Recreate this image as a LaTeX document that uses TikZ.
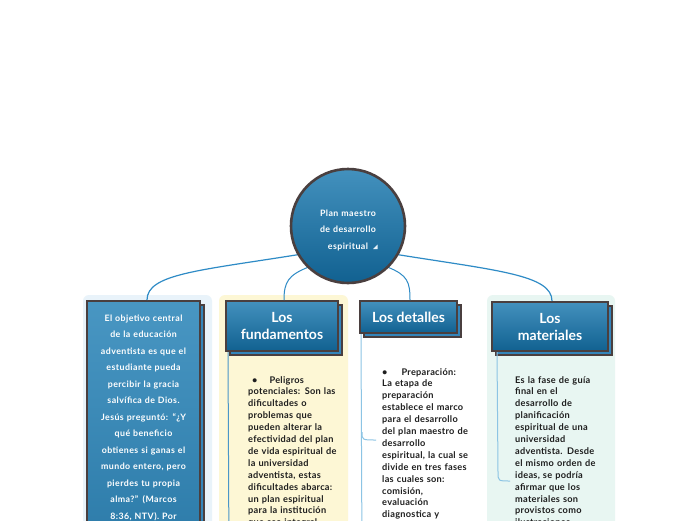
\documentclass[tikz,border=0pt]{standalone}
\usepackage{fontspec}
\setmainfont{Lato}
\newfontfamily\widefont[LetterSpace=5]{Lato}
\newfontfamily\bodyfont[LetterSpace=3]{Lato}
\definecolor{bgblue}{HTML}{E9F3FA}
\definecolor{bgyellow}{HTML}{FDF7D5}
\definecolor{bgmint}{HTML}{E8F6F2}
\definecolor{border}{HTML}{4A3F3F}
\definecolor{shT}{HTML}{5CA9D4}
\definecolor{shM}{HTML}{0E5E8E}
\definecolor{shB}{HTML}{3A86B8}
\definecolor{shadowblue}{HTML}{3485BA}
\definecolor{conncol}{HTML}{2E8BC6}
\definecolor{innercol}{HTML}{8CC4E4}
\definecolor{funcol}{HTML}{4A96C8}
\definecolor{bodycol}{HTML}{1E1E1E}
\pgfdeclareverticalshading{boxshade}{100bp}{color(0bp)=(shB); color(9bp)=(shM); color(22bp)=(shM); color(100bp)=(shT)}
\pgfdeclareverticalshading{leftshade}{100bp}{color(0bp)=(shM); color(100bp)=(shT)}
\tikzset{
  titlebox/.style={draw=border, line width=2pt, shading=boxshade, text=white,
    font=\fontsize{14}{17}\selectfont\bfseries, align=center, inner sep=0pt},
  shadowbox/.style={draw=border, line width=2pt, fill=shadowblue, inner sep=0pt},
  conn/.style={draw=conncol, line width=1.2pt},
  innerline/.style={draw=innercol, line width=1pt},
  bodytext/.style={text=bodycol, font=\bodyfont\fontsize{9.2}{11.9}\selectfont\bfseries,
    align=left, text width=120pt, inner sep=0pt, anchor=base west},
  whitetext/.style={text=white, font=\widefont\fontsize{8.8}{16.5}\selectfont\bfseries,
    align=center, text width=120pt, inner sep=0pt, anchor=base},
}
\begin{document}
\begin{tikzpicture}[x=1pt,y=-1pt]
\useasboundingbox (0,0) rectangle (696,520);
\clip (0,0) rectangle (696,520);
\fill[white] (0,0) rectangle (696,520);
% group backgrounds
\fill[bgblue, rounded corners=6pt] (83,295) rectangle (212,560);
\fill[bgyellow, rounded corners=6pt] (219,295) rectangle (348,560);
\fill[bgmint, rounded corners=6pt] (487,295) rectangle (615,560);

% shadows
\node[shadowbox, minimum width=113pt, minimum height=339pt] (leftS) at (147.5,474.5) {};
\node[shadowbox, minimum width=112pt, minimum height=50pt] (fundS) at (286,330) {};
\node[shadowbox, minimum width=97pt, minimum height=32pt] (detS) at (412.5,321) {};
\node[shadowbox, minimum width=116pt, minimum height=49pt] (matS) at (554,330.5) {};

% boxes
\node[draw=border, line width=2pt, shading=leftshade, minimum width=113pt, minimum height=339pt, inner sep=0pt] (leftbox) at (143.5,470.5) {};
\node[titlebox, minimum width=112pt, minimum height=50pt] (fund) at (282,326) {Los\\fundamentos};
\node[titlebox, minimum width=97pt, minimum height=32pt] (det) at (408.5,317) {Los detalles};
\node[titlebox, minimum width=116pt, minimum height=49pt] (mat) at (550,326.5) {Los\\materiales};

% inner lines
\coordinate (fundend) at (229,560);
\coordinate (detend) at (362,560);
\coordinate (detbranch) at (376,440);
\coordinate (matbranch) at (510,481);
\draw[draw=funcol, line width=1pt] ([xshift=3pt]fund.south west) -- (fundend);
\draw[innerline] ([xshift=2pt]det.south west) -- (detend);
\draw[innerline] (362,432) .. controls (362,440) .. (detbranch);
\draw[innerline] ([xshift=6pt]mat.south west) -- (498,472) .. controls (498,481) .. (matbranch);

% connectors
\node[circle, minimum size=114pt, inner sep=0pt] (root) at (348,226) {};
\draw[conn] (root.210) .. controls +(-100,16) and +(0,-26) .. ([xshift=3.5pt]leftbox.north);
\draw[conn, line width=1pt] (root.226) .. controls +(-20,8) and +(0,-18) .. ([xshift=2pt]fund.north);
\draw[conn, line width=1pt] (root.314) .. controls +(20,8) and +(0,-18) .. ([xshift=1.5pt]det.north);
\draw[conn] (root.330) .. controls +(100,16) and +(0,-26) .. ([xshift=2pt]mat.north);

% central circle
\node[circle, draw=border, line width=2.6pt, shading=boxshade, minimum size=114pt, inner sep=0pt] (rootc) at (348,226) {};
\node[whitetext] (rootlabel) at (348,216) {Plan maestro\\de desarrollo\\espiritual\hspace{8pt}};
\fill[white!85!shT] (377.5,244.5) -- (377.5,249) -- (373,249) -- cycle;

% texts
\node[whitetext, text width=112pt] (objtext) at (143.5,321) {El objetivo central\\de la educación\\adventista es que el\\estudiante pueda\\percibir la gracia\\salvífica de Dios.\\Jesús preguntó: “¿Y\\qué beneficio\\obtienes si ganas el\\mundo entero, pero\\pierdes tu propia\\alma?” (Marcos\\8:36, NTV). Por};

\node[bodytext] (fundtext) at (248,383) {\hspace*{4pt}•\hspace{12pt}Peligros\\potenciales: Son las\\dificultades o\\problemas que\\pueden alterar la\\efectividad del plan\\de vida espiritual de\\la universidad\\adventista, estas\\dificultades abarca:\\un plan espiritual\\para la institución\\que sea integral};

\node[bodytext] (dettext) at (382,375) {•\hspace{14pt}Preparación:\\La etapa de\\preparación\\establece el marco\\para el desarrollo\\del plan maestro de\\desarrollo\\espiritual, la cual se\\divide en tres fases\\las cuales son:\\comisión,\\evaluación\\diagnostica y\\creación de};

\node[bodytext] (mattext) at (515,383) {Es la fase de guía\\final en el\\desarrollo de\\planificación\\espiritual de una\\universidad\\adventista. Desde\\el mismo orden de\\ideas, se podría\\afirmar que los\\materiales son\\provistos como\\ilustraciones};
\end{tikzpicture}
\end{document}
